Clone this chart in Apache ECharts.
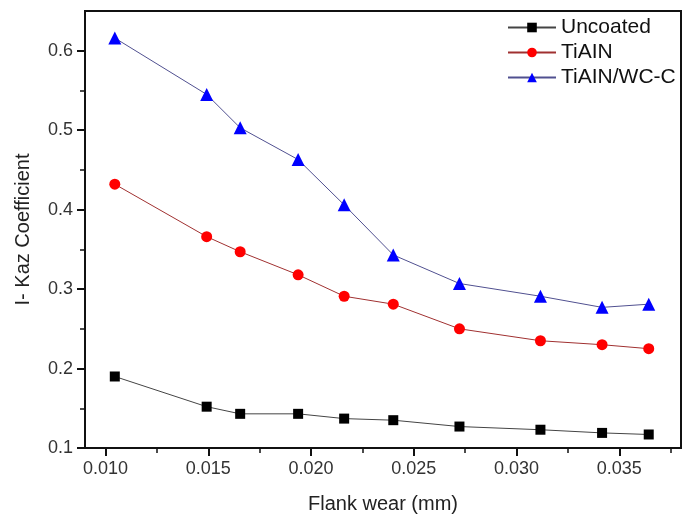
<!DOCTYPE html>
<html>
<head>
<meta charset="utf-8">
<script src="https://cdn.jsdelivr.net/npm/echarts@6/dist/echarts.min.js"></script>
<style>
html, body { margin: 0; padding: 0; background: #fff; }
#chart { width: 691px; height: 519px; }
</style>
</head>
<body>
<div id="chart"></div>
<script>
// flank wear (mm)
var wear = [0.01045, 0.01492, 0.01655, 0.01937, 0.02161, 0.02400, 0.02722, 0.03116, 0.03416, 0.03643];
var uncoated = [0.190, 0.152, 0.143, 0.143, 0.137, 0.135, 0.127, 0.123, 0.119, 0.117];
var tialn = [0.432, 0.366, 0.347, 0.318, 0.291, 0.281, 0.250, 0.235, 0.230, 0.225];
var tialnWcc = [0.616, 0.545, 0.503, 0.463, 0.406, 0.343, 0.307, 0.291, 0.277, 0.281];

var xMajor = [0.010, 0.015, 0.020, 0.025, 0.030, 0.035];
var xMinor = [0.0125, 0.0175, 0.0225, 0.0275, 0.0325, 0.0375];
var yMajor = [0.1, 0.2, 0.3, 0.4, 0.5, 0.6];
var yMinor = [0.15, 0.25, 0.35, 0.45, 0.55];

function pairs(ys) {
    return wear.map(function (x, i) { return [x, ys[i]]; });
}

var font = 'Liberation Sans, Arial, sans-serif';
var chart = echarts.init(document.getElementById('chart'));

var option = {
    animation: false,
    grid: {
        left: 85, right: 10, top: 11, bottom: 71,
        show: true,
        borderColor: '#111',
        borderWidth: 2
    },
    legend: {
        orient: 'vertical',
        left: 502,
        top: 12,
        itemWidth: 48,
        itemHeight: 12,
        itemGap: 4,
        textStyle: { fontFamily: font, fontSize: 21, color: '#111' },
        data: ['Uncoated', 'TiAIN', 'TiAIN/WC-C']
    },
    xAxis: [{
        type: 'value',
        min: 0.009,
        max: 0.038,
        name: 'Flank wear (mm)',
        nameLocation: 'middle',
        nameGap: 46,
        nameTextStyle: { fontFamily: font, fontSize: 20, color: '#222' },
        axisLine: { show: true, lineStyle: { color: '#111', width: 2 } },
        axisTick: { show: true, customValues: xMajor, length: 8, lineStyle: { color: '#111', width: 2 } },
        axisLabel: {
            customValues: xMajor,
            margin: 12,
            fontFamily: font, fontSize: 18, color: '#333',
            formatter: function (v) { return v.toFixed(3); }
        },
        splitLine: { show: false }
    }, {
        type: 'value',
        position: 'bottom',
        min: 0.009,
        max: 0.038,
        axisLine: { show: false },
        axisTick: { show: true, customValues: xMinor, length: 5, lineStyle: { color: '#111', width: 1.5 } },
        axisLabel: { show: false },
        splitLine: { show: false }
    }],
    yAxis: [{
        type: 'value',
        min: 0.1,
        max: 0.65,
        name: 'I- Kaz Coefficient',
        nameLocation: 'middle',
        nameGap: 52,
        nameTextStyle: { fontFamily: font, fontSize: 20, color: '#222' },
        axisLine: { show: true, lineStyle: { color: '#111', width: 2 } },
        axisTick: { show: true, customValues: yMajor, length: 8, lineStyle: { color: '#111', width: 2 } },
        axisLabel: {
            customValues: yMajor,
            margin: 12,
            fontFamily: font, fontSize: 18, color: '#333',
            formatter: function (v) { return v.toFixed(1); }
        },
        splitLine: { show: false }
    }, {
        type: 'value',
        position: 'left',
        min: 0.1,
        max: 0.65,
        axisLine: { show: false },
        axisTick: { show: true, customValues: yMinor, length: 5, lineStyle: { color: '#111', width: 1.5 } },
        axisLabel: { show: false },
        splitLine: { show: false }
    }],
    series: [{
        name: 'Uncoated',
        type: 'line',
        data: pairs(uncoated),
        symbol: 'rect',
        symbolSize: 10,
        itemStyle: { color: '#000' },
        lineStyle: { color: '#444', width: 1 }
    }, {
        name: 'TiAIN',
        type: 'line',
        data: pairs(tialn),
        symbol: 'circle',
        symbolSize: 11,
        itemStyle: { color: '#ff0000' },
        lineStyle: { color: '#a03030', width: 1 }
    }, {
        name: 'TiAIN/WC-C',
        type: 'line',
        data: pairs(tialnWcc),
        symbol: 'triangle',
        symbolSize: 13,
        itemStyle: { color: '#0000ff' },
        lineStyle: { color: '#505090', width: 1 }
    }]
};

chart.setOption(option);
</script>
</body>
</html>
